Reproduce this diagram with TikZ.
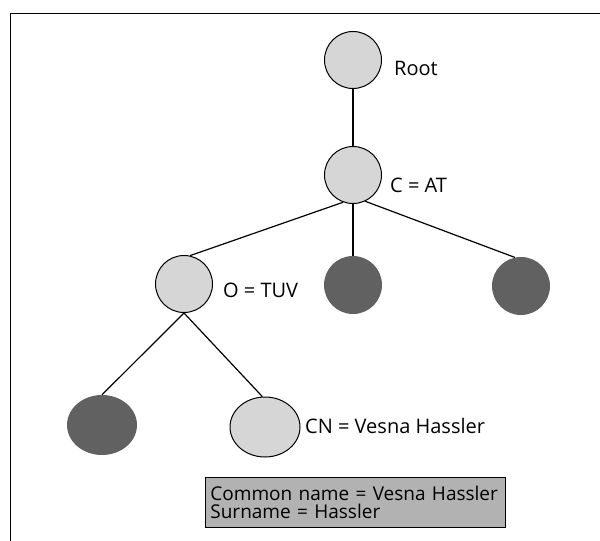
\documentclass[tikz,border=0pt]{standalone}
\usepackage{fontspec}
\setmainfont{Open Sans}
\usetikzlibrary{shapes.geometric}

\tikzset{
  entrylight/.style={circle, draw=black, line width=1pt, fill=black!16,
    minimum size=57pt, inner sep=0pt},
  entrydark/.style={circle, fill=black!62, minimum size=58pt, inner sep=0pt},
  leaflight/.style={ellipse, draw=black, line width=1pt, fill=black!16,
    minimum width=70pt, minimum height=60pt, inner sep=0pt},
  leafdark/.style={ellipse, fill=black!62, minimum width=70pt,
    minimum height=60pt, inner sep=0pt},
  rdnlabel/.style={anchor=base west, inner sep=0pt,
    font=\fontsize{20}{22}\selectfont},
  treeedge/.style={line width=1.2pt},
  attrbox/.style={draw=black, line width=0.8pt, fill=black!30,
    anchor=north west, text width=290pt, inner xsep=5pt, inner ysep=0pt,
    minimum height=50pt, align=left, font=\fontsize{19}{18}\selectfont},
}

\begin{document}
\begin{tikzpicture}[x=1pt,y=-1pt]
\useasboundingbox (0,0) rectangle (600,541);

% frame
\draw[line width=1pt] (10,541) -- (10,13) -- (600,13);

% directory entries
\node[entrylight] (root) at (353,60)  {};
\node[entrylight] (cat)  at (353,175) {};
\node[entrylight] (tuv)  at (184,284) {};
\node[entrydark]  (mid)  at (353,285) {};
\node[entrydark]  (rgt)  at (521,286) {};
\node[leafdark]   (lft)  at (102,425) {};
\node[leaflight]  (cn)   at (265,427) {};

% relative distinguished names
\node[rdnlabel] (rootlbl) at (394,75)  {Root};
\node[rdnlabel] (catlbl)  at (390,192) {C = AT};
\node[rdnlabel] (tuvlbl)  at (223,297) {O = TUV};
\node[rdnlabel] (cnlbl)   at (305,433) {CN = Vesna Hassler};

% tree edges
\draw[treeedge] (root.south) -- (cat.north);
\draw[treeedge] (cat.250) -- (tuv.78);
\draw[treeedge] (cat.south) -- (mid.north);
\draw[treeedge] (cat.295) -- (rgt.102);
\draw[treeedge] (tuv.south) -- (lft.north);
\draw[treeedge] (tuv.south) -- (cn.95);

% attributes of the leaf entry
\node[attrbox] (attrs) at (205,477)
  {Common name = Vesna Hassler\\Surname = Hassler};
\end{tikzpicture}
\end{document}
